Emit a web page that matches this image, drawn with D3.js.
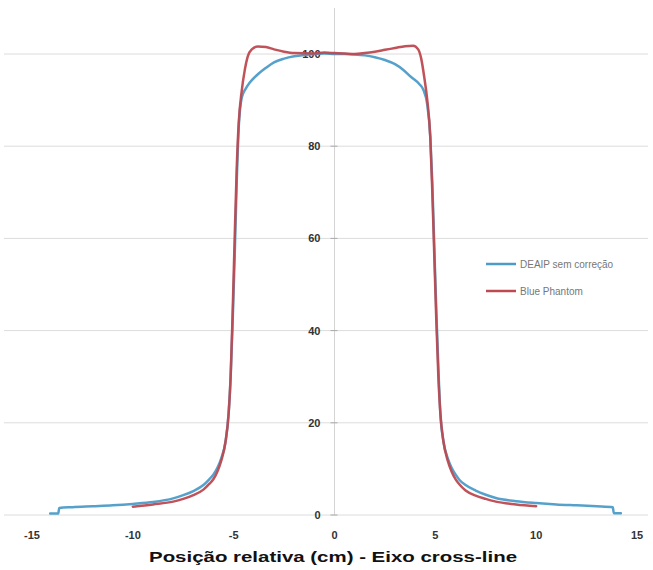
<!DOCTYPE html>
<html>
<head>
<meta charset="utf-8">
<script src="https://cdn.jsdelivr.net/npm/d3@7"></script>
<style>
  body { margin: 0; background: #fff; }
  svg { display: block; }
</style>
</head>
<body>
<svg id="chart"></svg>
<script>
// perfil cross-line: DEAIP sem correção vs Blue Phantom

const width = 653;
const height = 570;

// dados
const blueX = [-14.1, -13.7, -13.65, -13, -12, -11, -10, -9, -8, -7.5, -7, -6.5, -6.2, -6, -5.8, -5.6, -5.4, -5.25, -5.15, -5.05, -4.95, -4.85, -4.75, -4.6, -4.4, -4.2, -3.8, -3.4, -3, -2.5, -2, -1.5, -1, -0.5, 0, 0.5, 1, 1.5, 2, 2.5, 3, 3.4, 3.8, 4.2, 4.4, 4.6, 4.75, 4.85, 4.95, 5.05, 5.15, 5.25, 5.4, 5.6, 5.8, 6, 6.2, 6.5, 7, 7.5, 8, 9, 10, 11, 12, 13, 13.8, 13.85, 14.2];
const blueY = [0.3, 0.3, 1.5, 1.7, 1.9, 2.1, 2.4, 2.8, 3.6, 4.3, 5.2, 6.5, 7.8, 8.8, 10.3, 12.5, 16, 22, 30, 42, 56, 72, 84, 90.5, 92.5, 93.8, 95.6, 97, 98.2, 99, 99.5, 99.8, 100, 100.1, 100, 100, 99.9, 99.7, 99.3, 98.7, 97.8, 96.6, 95, 93.5, 92.3, 89, 82, 72, 58, 44, 32, 22, 16, 12.5, 10.3, 8.8, 7.6, 6.5, 5.3, 4.4, 3.7, 3.0, 2.6, 2.3, 2.1, 1.9, 1.7, 0.4, 0.4];

const redX = [-10, -9, -8, -7.5, -7, -6.5, -6.2, -6, -5.8, -5.6, -5.4, -5.25, -5.15, -5.05, -4.95, -4.85, -4.75, -4.6, -4.45, -4.3, -4.1, -3.8, -3.4, -3, -2.5, -2, -1, -0.5, 0, 0.5, 1, 1.5, 2, 2.5, 3, 3.5, 3.9, 4.15, 4.3, 4.45, 4.6, 4.75, 4.85, 4.95, 5.05, 5.15, 5.25, 5.4, 5.6, 5.8, 6, 6.2, 6.5, 7, 7.5, 8, 9, 10];
const redY = [1.8, 2.3, 2.9, 3.5, 4.3, 5.5, 6.8, 7.8, 9.5, 12, 16, 22, 30, 44, 60, 75, 85, 92, 96.5, 99.5, 101, 101.6, 101.5, 101, 100.5, 100.2, 100.1, 100.3, 100.2, 100.1, 100, 100.2, 100.5, 100.9, 101.3, 101.7, 101.8, 101, 99, 95, 90, 82, 70, 56, 42, 30, 22, 16, 12, 9.5, 7.8, 6.6, 5.3, 4.2, 3.5, 2.9, 2.3, 1.9];

const xTicks = [-15, -10, -5, 0, 5, 10, 15];
const yTicks = [0, 20, 40, 60, 80, 100];
const seriesNames = ["DEAIP sem correção", "Blue Phantom"];
const seriesColors = ["#4d9cc8", "#bd4a50"];

const svg = d3.select("#chart")
  .attr("width", width)
  .attr("height", height);

const x = d3.scaleLinear().domain([-15, 15]).range([32, 637]);
const y = d3.scaleLinear().domain([0, 100]).range([515, 54]);

// linhas de grade
svg.append("g")
  .selectAll("line")
  .data(yTicks)
  .enter()
  .append("line")
  .attr("x1", 4)
  .attr("x2", 648)
  .attr("y1", d => y(d))
  .attr("y2", d => y(d))
  .attr("stroke", "#dcdcdc")
  .attr("stroke-width", 1);

// eixo vertical em x = 0
svg.append("line")
  .attr("x1", x(0)).attr("x2", x(0))
  .attr("y1", 8).attr("y2", y(0))
  .attr("stroke", "#d4d4d4")
  .attr("stroke-width", 1);

// marcas e rótulos do eixo y
const yg = svg.append("g");
yg.selectAll("line")
  .data(yTicks)
  .enter()
  .append("line")
  .attr("x1", x(0) - 4).attr("x2", x(0) + 3)
  .attr("y1", d => y(d)).attr("y2", d => y(d))
  .attr("stroke", "#aaa");
yg.selectAll("text")
  .data(yTicks)
  .enter()
  .append("text")
  .attr("x", x(0) - 14)
  .attr("y", d => y(d) + 4)
  .attr("text-anchor", "end")
  .attr("font-family", "Liberation Sans, Arial, sans-serif")
  .attr("font-size", 11)
  .attr("font-weight", "bold")
  .attr("fill", "#333")
  .text(d => d);

// rótulos do eixo x
svg.append("g")
  .selectAll("text")
  .data(xTicks)
  .enter()
  .append("text")
  .attr("x", d => x(d))
  .attr("y", 539)
  .attr("text-anchor", "middle")
  .attr("font-family", "Liberation Sans, Arial, sans-serif")
  .attr("font-size", 11)
  .attr("font-weight", "bold")
  .attr("fill", "#333")
  .text(d => d);

// título do eixo x
svg.append("text")
  .attr("x", 333)
  .attr("y", 562)
  .attr("text-anchor", "middle")
  .attr("font-family", "Liberation Sans, Arial, sans-serif")
  .attr("font-size", 15)
  .attr("font-weight", "bold")
  .attr("fill", "#111")
  .attr("textLength", 368)
  .attr("lengthAdjust", "spacingAndGlyphs")
  .text("Posição relativa (cm) - Eixo cross-line");

// curvas
const line = d3.line()
  .x(d => x(d[0]))
  .y(d => y(d[1]))
  .curve(d3.curveMonotoneX);

const series = [
  d3.zip(blueX, blueY),
  d3.zip(redX, redY)
];

svg.append("g")
  .attr("fill", "none")
  .attr("stroke-linejoin", "round")
  .attr("stroke-linecap", "round")
  .selectAll("path")
  .data(series)
  .enter()
  .append("path")
  .attr("d", line)
  .attr("stroke", (d, i) => seriesColors[i])
  .attr("stroke-width", 2.5)
  .attr("opacity", 0.95);

// legenda
const legend = svg.append("g")
  .selectAll("g")
  .data(seriesNames)
  .enter()
  .append("g")
  .attr("transform", (d, i) => "translate(486," + (264 + i * 27) + ")");
legend.append("line")
  .attr("x1", 0).attr("x2", 30)
  .attr("stroke", (d, i) => seriesColors[i])
  .attr("stroke-width", 2.5);
legend.append("text")
  .attr("x", 34)
  .attr("y", 3.5)
  .attr("font-family", "Liberation Sans, Arial, sans-serif")
  .attr("font-size", 10)
  .attr("fill", "#777")
  .text(d => d);
</script>
</body>
</html>
